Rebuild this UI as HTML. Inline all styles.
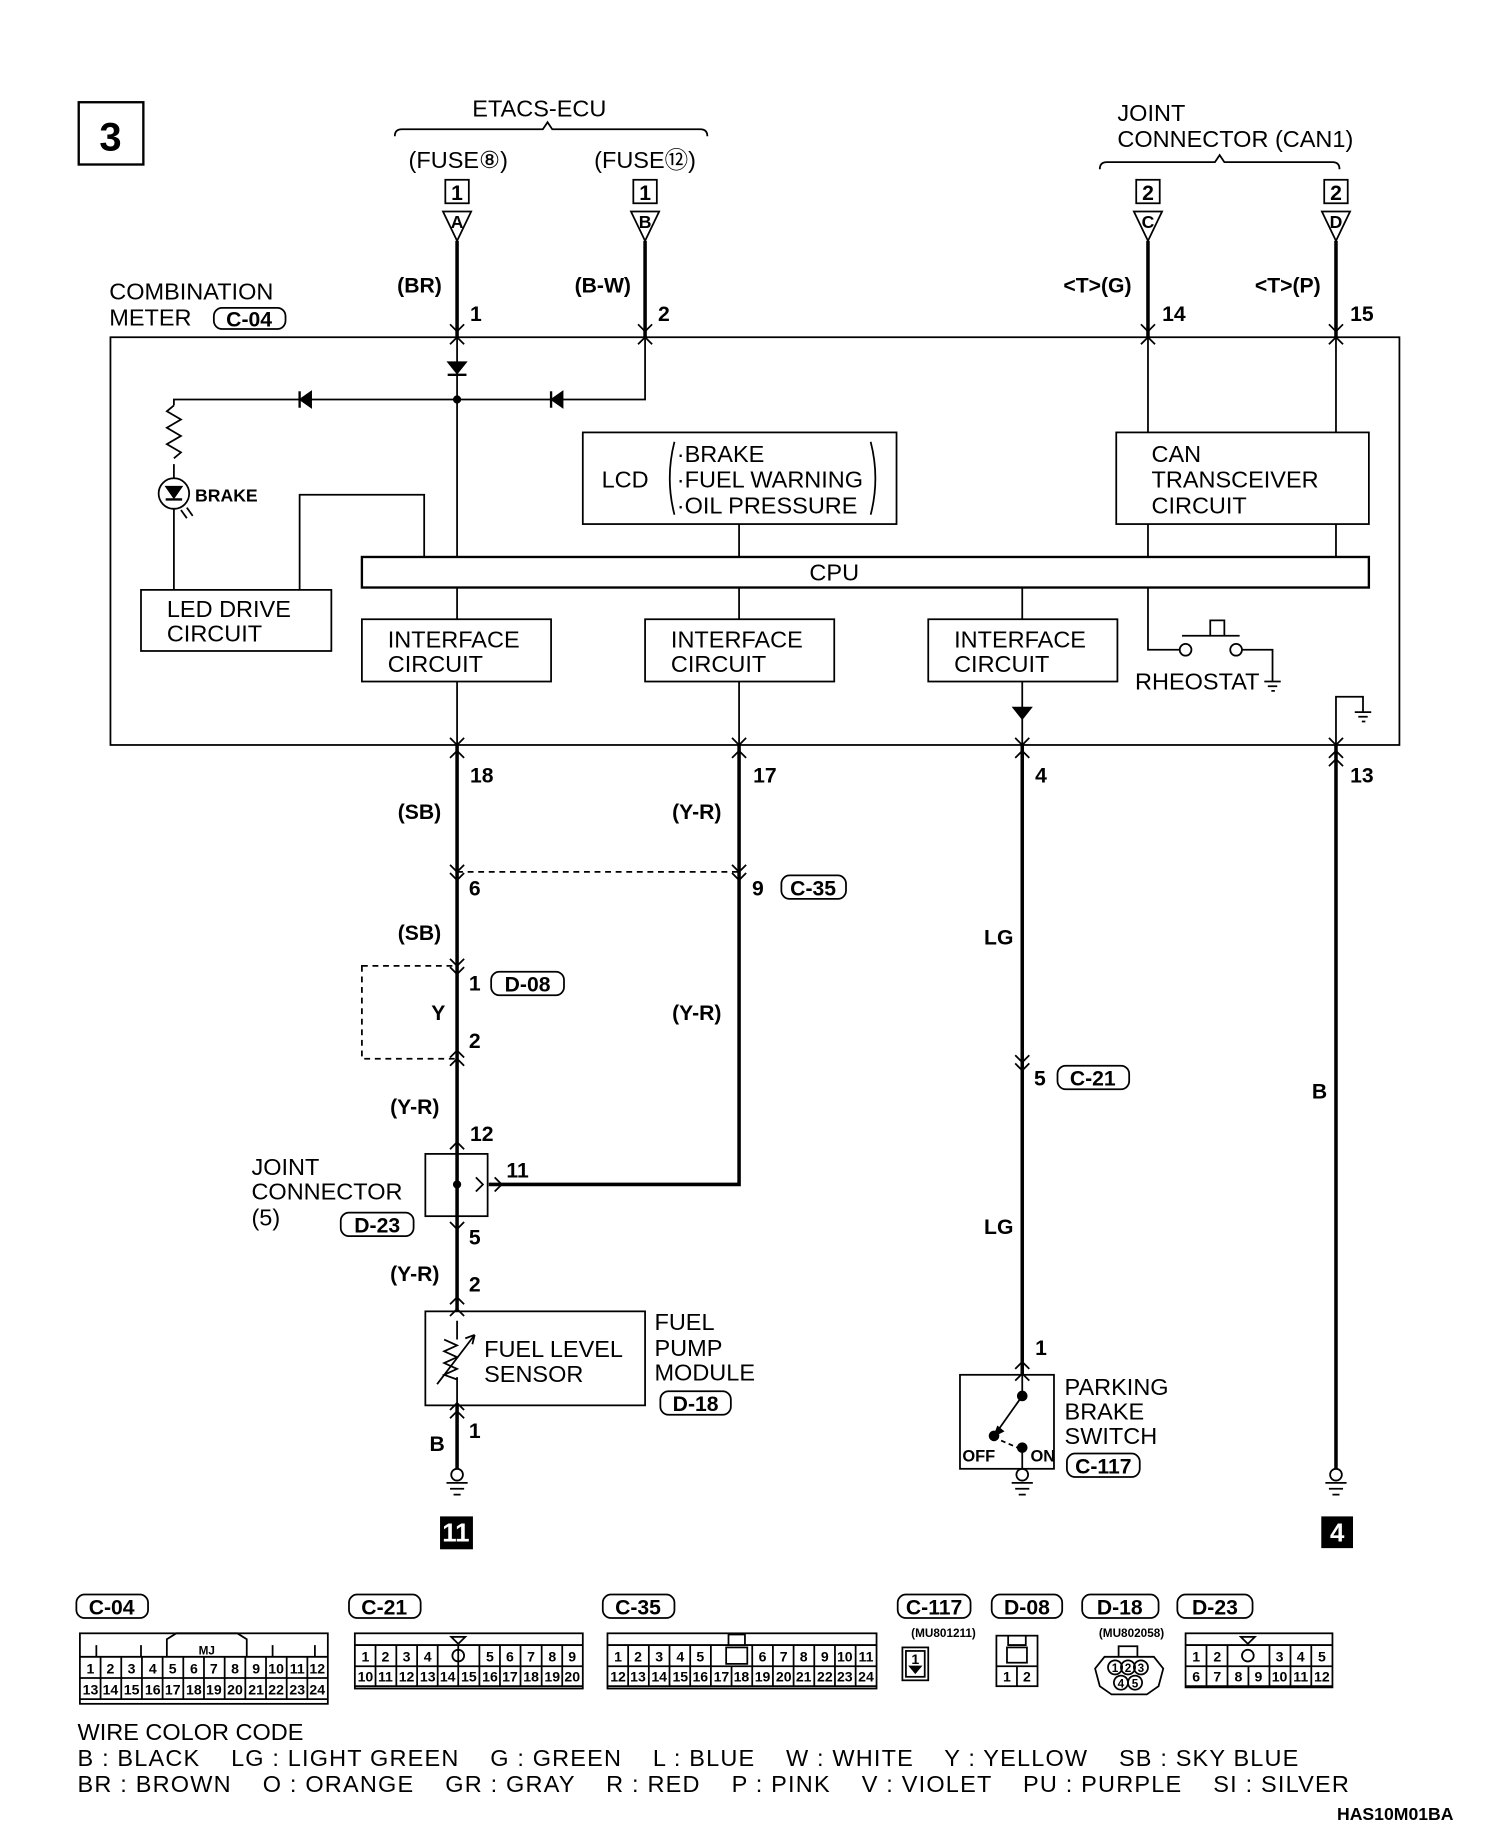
<!DOCTYPE html>
<html><head><meta charset="utf-8"><style>
html,body{margin:0;padding:0;background:#fff;}
svg{display:block;}
text{font-family:"Liberation Sans",sans-serif;fill:#000;}
.t{font-size:20px;}
.b{font-size:18px;font-weight:bold;}
.s{font-size:13px;font-weight:bold;}
.c{font-size:12px;font-weight:bold;}
</style></head><body>
<svg width="1504" height="1846" viewBox="0 0 1280 1571" preserveAspectRatio="none" xmlns="http://www.w3.org/2000/svg">
<rect width="1280" height="1571" fill="#fff"/>
<g fill="none" stroke="#000" stroke-width="1.5">
<rect x="67" y="87" width="55" height="53" stroke-width="2"/>
<path d="M336 116 Q336 110 342 110 L462 110 L466 104 L470 110 L596 110 Q602 110 602 116"/>
<path d="M936 144 Q936 138 942 138 L1034 138 L1038 132 L1042 138 L1134 138 Q1140 138 1140 144"/>
<rect x="379" y="153" width="20" height="20"/><rect x="539" y="153" width="20" height="20"/>
<rect x="967" y="153" width="20" height="20"/><rect x="1127" y="153" width="20" height="20"/>
<path d="M377 180 L401 180 L389 205 Z"/><path d="M537 180 L561 180 L549 205 Z"/>
<path d="M965 180 L989 180 L977 205 Z"/><path d="M1125 180 L1149 180 L1137 205 Z"/>
<rect x="94" y="287" width="1097" height="347"/>
<path d="M389 287 V474 M549 287 V340 H148 V345 M148 395 V407 M148 433 V502 M255 502 V421 H361 V474"/>
<path d="M148 345 l-6 5 l12 7 l-12 7 l12 7 l-12 7 l12 7 l-6 5"/>
<circle cx="148" cy="420" r="13"/>
<path d="M154 434 l5 7 M159 432 l5 7"/>
<rect x="120" y="502" width="162" height="52"/>
<rect x="496" y="368" width="267" height="78"/>
<path d="M574 376 Q566 407 574 438 M741 376 Q749 407 741 438"/>
<rect x="950" y="368" width="215" height="78"/>
<rect x="308" y="474" width="857" height="26" stroke-width="2"/>
<path d="M977 287 V368 M1137 287 V368 M977 446 V474 M1137 446 V474 M629 446 V474"/>
<path d="M389 500 V527 M629 500 V527 M870 500 V527 M977 500 V553 H1004"/>
<rect x="308" y="527" width="161" height="53"/><rect x="549" y="527" width="161" height="53"/><rect x="790" y="527" width="161" height="53"/>
<circle cx="1009" cy="553" r="5"/><circle cx="1052" cy="553" r="5"/>
<path d="M1006 541 H1055 M1030 541 V528 H1042 V541 M1057 553 H1083 V580 M1076 580 H1090 M1079 584 H1087 M1082 588 H1085"/>
<path d="M389 580 V634 M629 580 V634 M870 580 V634 M1137 634 V593 H1160 V606 M1153 606 H1167 M1156 610 H1164 M1159 614 H1162"/>
<g stroke-width="3">
<path d="M389 205 V287 M549 205 V287 M977 205 V287 M1137 205 V287"/>
<path d="M389 634 V1116 M629 634 V1008 H416 M389 1035 V1116 M389 1196 V1250"/>
<path d="M870 634 V1170 M1137 634 V1250"/>
</g>
<path d="M389 742 H629" stroke-dasharray="5 4"/>
<rect x="308" y="822" width="81" height="79" stroke-dasharray="5 4"/>
<rect x="362" y="982" width="53" height="53"/>
<rect x="362" y="1116" width="187" height="80"/>
<path d="M389 1124 V1140 M389 1172 V1196 M378 1140 l11 5 l-11 5 l11 5 l-11 5 l11 5 l-11 5 l11 4 M372 1178 L404 1136 M404 1136 l-2 8 M404 1136 l-8 3"/>
<rect x="817" y="1170" width="80" height="80"/>
<path d="M870 1170 V1188 M870 1188 L846 1222 M870 1250 V1232"/>
<path d="M852 1226 L866 1232" stroke-dasharray="4 3"/>
<circle cx="389" cy="1255" r="5"/><path d="M380 1262 H398 M383 1267 H395 M386 1272 H392"/>
<circle cx="870" cy="1255" r="5"/><path d="M861 1262 H879 M864 1267 H876 M867 1272 H873"/>
<circle cx="1137" cy="1255" r="5"/><path d="M1128 1262 H1146 M1131 1267 H1143 M1134 1272 H1140"/>
<path d="M383 293 l6 -6 l6 6 M543 293 l6 -6 l6 6 M971 293 l6 -6 l6 6 M1131 293 l6 -6 l6 6"/>
<path d="M383 276 l6 6 l6 -6 M543 276 l6 6 l6 -6 M971 276 l6 6 l6 -6 M1131 276 l6 6 l6 -6"/>
<path d="M383 628 l6 6 l6 -6 M623 628 l6 6 l6 -6 M864 628 l6 6 l6 -6 M1131 628 l6 6 l6 -6"/>
<path d="M383 645 l6 -6 l6 6 M623 645 l6 -6 l6 6 M864 645 l6 -6 l6 6 M1131 645 l6 -6 l6 6"/>
<path d="M383 736 l6 6 l6 -6 M383 743 l6 6 l6 -6 M623 736 l6 6 l6 -6 M623 743 l6 6 l6 -6"/>
<path d="M383 816 l6 6 l6 -6 M383 823 l6 6 l6 -6 M383 900 l6 -6 l6 6 M383 907 l6 -6 l6 6"/>
<path d="M864 898 l6 6 l6 -6 M864 905 l6 6 l6 -6"/>
<path d="M383 978 l6 -6 l6 6 M383 1040 l6 6 l6 -6 M383 1120 l6 -6 l6 6 M383 1110 l6 -6 l6 6"/>
<path d="M383 1200 l6 -6 l6 6 M383 1207 l6 -6 l6 6 M864 1175 l6 -6 l6 6 M864 1165 l6 -6 l6 6"/>
<path d="M421 1002 l6 6 l-6 6 M405 1002 l6 6 l-6 6 M1131 652 l6 -6 l6 6"/>
<rect x="182" y="262" width="61" height="18" rx="7"/>
<rect x="665" y="745" width="55" height="20" rx="7"/>
<rect x="418" y="827" width="62" height="20" rx="7"/>
<rect x="290" y="1032" width="62" height="20" rx="7"/>
<rect x="562" y="1184" width="60" height="20" rx="7"/>
<rect x="900" y="907" width="61" height="20" rx="7"/>
<rect x="908" y="1237" width="62" height="20" rx="7"/>
<rect x="65" y="1357" width="61" height="20" rx="7"/><rect x="297" y="1357" width="61" height="20" rx="7"/>
<rect x="513" y="1357" width="61" height="20" rx="7"/><rect x="764" y="1357" width="62" height="20" rx="7"/>
<rect x="844" y="1357" width="60" height="20" rx="7"/><rect x="921" y="1357" width="65" height="20" rx="7"/>
<rect x="1002" y="1357" width="64" height="20" rx="7"/>
<rect x="68" y="1390" width="211" height="60"/>
<path d="M68 1410 H279 M68 1428 H279 M68 1446 H279 M142 1410 V1395 L150 1390 H202 L210 1395 V1410 M82 1410 V1400 M120 1410 V1400 M232 1410 V1400 M268 1410 V1400"/>
<path d="M85.6 1410 V1446 M103.2 1410 V1446 M120.8 1410 V1446 M138.4 1410 V1446 M156 1410 V1446 M173.6 1410 V1446 M191.2 1410 V1446 M208.8 1410 V1446 M226.4 1410 V1446 M244 1410 V1446 M261.6 1410 V1446"/>
<rect x="302" y="1390" width="194" height="47"/>
<path d="M302 1400 H496 M302 1418 H496 M302 1435 H496"/>
<path d="M319.6 1400 V1435 M337.3 1400 V1435 M355 1400 V1435 M372.5 1400 V1418 M390 1400 V1418 M372.5 1418 V1435 M390 1418 V1435 M408 1400 V1435 M425.5 1400 V1435 M443 1400 V1435 M461 1400 V1435 M478.5 1400 V1435"/>
<circle cx="390" cy="1409" r="5"/><path d="M384 1393 H396 L390 1399 Z"/>
<rect x="517" y="1390" width="229" height="47"/>
<path d="M517 1400 H746 M517 1418 H746 M517 1435 H746 M620 1400 V1391 H634 V1400"/>
<path d="M534.6 1400 V1435 M552.2 1400 V1435 M569.8 1400 V1435 M587.4 1400 V1435 M605 1400 V1435 M622.6 1418 V1435 M640.2 1400 V1435 M657.8 1400 V1435 M675.4 1400 V1435 M693 1400 V1435 M710.6 1400 V1435 M728.2 1400 V1435"/>
<rect x="618" y="1402" width="18" height="14"/>
<rect x="768" y="1402" width="22" height="28"/><rect x="771" y="1405" width="16" height="22"/>
<rect x="848" y="1392" width="35" height="43"/><path d="M848 1418 H883 M865.5 1418 V1435 M858 1392 V1400 H873 V1392"/><rect x="857" y="1402" width="17" height="13"/>
<path d="M940 1410 H982 L990 1420 L986 1435 L976 1442 H946 L936 1435 L932 1420 Z M952 1410 V1401 H968 V1410"/>
<circle cx="949" cy="1419" r="6"/><circle cx="960" cy="1419" r="6"/><circle cx="971" cy="1419" r="6"/><circle cx="954" cy="1432" r="6"/><circle cx="966" cy="1432" r="6"/>
<rect x="1009" y="1390" width="125" height="46"/>
<path d="M1009 1400 H1134 M1009 1418 H1134 M1009 1435 H1134"/>
<path d="M1026.8 1400 V1435 M1044.7 1400 V1418 M1080.4 1400 V1435 M1062.5 1418 V1435 M1098.3 1400 V1435 M1116 1400 V1435 M1044.7 1418 V1435"/>
<circle cx="1062" cy="1409" r="5"/><path d="M1056 1393 H1068 L1062 1399 Z"/>
</g>
<g fill="#000" stroke="#000">
<path d="M381 308 H397 L389 318 Z"/><path d="M381 319 H397" stroke-width="2"/>
<path d="M265 333 V347 L255 340 Z"/><path d="M255 333 V347" stroke-width="2"/>
<path d="M479 333 V347 L469 340 Z"/><path d="M469 333 V347" stroke-width="2"/>
<circle cx="389" cy="340" r="3"/>
<path d="M141 414 H155 L148 424 Z"/><path d="M141 425 H155" stroke-width="2"/>
<path d="M862 602 H878 L870 612 Z"/>
<circle cx="389" cy="1008" r="3"/>
<circle cx="870" cy="1188" r="4"/><circle cx="846" cy="1222" r="4"/><circle cx="870" cy="1232" r="4"/>
<path d="M846 1222 l3 -8 l5 4 Z"/>
<rect x="375" y="1291" width="27" height="27"/><rect x="1125" y="1291" width="26" height="26"/>
<path d="M774 1418 H784 L779 1424 Z"/>
</g>
<text x="94" y="128" text-anchor="middle" style="font-size:34px;font-weight:bold">3</text>
<text x="459" y="99" text-anchor="middle" class="t">ETACS-ECU</text>
<text x="390" y="143" text-anchor="middle" class="t">(FUSE⑧)</text>
<text x="549" y="143" text-anchor="middle" class="t">(FUSE⑫)</text>
<text x="389" y="170" text-anchor="middle" class="b">1</text><text x="549" y="170" text-anchor="middle" class="b">1</text>
<text x="977" y="170" text-anchor="middle" class="b">2</text><text x="1137" y="170" text-anchor="middle" class="b">2</text>
<text x="389" y="194" text-anchor="middle" class="s" style="font-size:15px">A</text><text x="549" y="194" text-anchor="middle" class="s" style="font-size:15px">B</text>
<text x="977" y="194" text-anchor="middle" class="s" style="font-size:15px">C</text><text x="1137" y="194" text-anchor="middle" class="s" style="font-size:15px">D</text>
<text x="951" y="103" class="t">JOINT</text><text x="951" y="125" class="t">CONNECTOR (CAN1)</text>
<text x="357" y="249" text-anchor="middle" class="b">(BR)</text><text x="400" y="273" class="b">1</text>
<text x="513" y="249" text-anchor="middle" class="b">(B-W)</text><text x="560" y="273" class="b">2</text>
<text x="934" y="249" text-anchor="middle" class="b">&lt;T&gt;(G)</text><text x="989" y="273" class="b">14</text>
<text x="1096" y="249" text-anchor="middle" class="b">&lt;T&gt;(P)</text><text x="1149" y="273" class="b">15</text>
<text x="93" y="255" class="t">COMBINATION</text><text x="93" y="277" class="t">METER</text>
<text x="212" y="278" text-anchor="middle" class="b">C-04</text>
<text x="166" y="427" class="s" style="font-size:15px">BRAKE</text>
<text x="142" y="525" class="t">LED DRIVE</text><text x="142" y="546" class="t">CIRCUIT</text>
<text x="512" y="415" class="t">LCD</text>
<text x="576" y="393" class="t">·BRAKE</text><text x="576" y="415" class="t">·FUEL WARNING</text><text x="576" y="437" class="t">·OIL PRESSURE</text>
<text x="980" y="393" class="t">CAN</text><text x="980" y="415" class="t">TRANSCEIVER</text><text x="980" y="437" class="t">CIRCUIT</text>
<text x="710" y="494" text-anchor="middle" class="t">CPU</text>
<text x="330" y="551" class="t">INTERFACE</text><text x="330" y="572" class="t">CIRCUIT</text>
<text x="571" y="551" class="t">INTERFACE</text><text x="571" y="572" class="t">CIRCUIT</text>
<text x="812" y="551" class="t">INTERFACE</text><text x="812" y="572" class="t">CIRCUIT</text>
<text x="966" y="587" class="t">RHEOSTAT</text>
<text x="400" y="666" class="b">18</text><text x="357" y="697" text-anchor="middle" class="b">(SB)</text>
<text x="641" y="666" class="b">17</text><text x="593" y="697" text-anchor="middle" class="b">(Y-R)</text>
<text x="881" y="666" class="b">4</text><text x="1149" y="666" class="b">13</text>
<text x="399" y="762" class="b">6</text><text x="640" y="762" class="b">9</text>
<text x="692" y="762" text-anchor="middle" class="b">C-35</text>
<text x="357" y="800" text-anchor="middle" class="b">(SB)</text>
<text x="399" y="843" class="b">1</text><text x="449" y="844" text-anchor="middle" class="b">D-08</text>
<text x="373" y="868" text-anchor="middle" class="b">Y</text><text x="399" y="892" class="b">2</text>
<text x="593" y="868" text-anchor="middle" class="b">(Y-R)</text>
<text x="850" y="804" text-anchor="middle" class="b">LG</text>
<text x="880" y="924" class="b">5</text><text x="930" y="924" text-anchor="middle" class="b">C-21</text>
<text x="850" y="1050" text-anchor="middle" class="b">LG</text>
<text x="1123" y="935" text-anchor="middle" class="b">B</text>
<text x="353" y="948" text-anchor="middle" class="b">(Y-R)</text>
<text x="400" y="971" class="b">12</text><text x="431" y="1002" class="b">11</text>
<text x="214" y="1000" class="t">JOINT</text><text x="214" y="1021" class="t">CONNECTOR</text><text x="214" y="1043" class="t">(5)</text>
<text x="321" y="1049" text-anchor="middle" class="b">D-23</text>
<text x="399" y="1059" class="b">5</text>
<text x="353" y="1090" text-anchor="middle" class="b">(Y-R)</text><text x="399" y="1099" class="b">2</text>
<text x="412" y="1155" class="t">FUEL LEVEL</text><text x="412" y="1176" class="t">SENSOR</text>
<text x="557" y="1132" class="t">FUEL</text><text x="557" y="1154" class="t">PUMP</text><text x="557" y="1175" class="t">MODULE</text>
<text x="592" y="1201" text-anchor="middle" class="b">D-18</text>
<text x="399" y="1224" class="b">1</text><text x="372" y="1235" text-anchor="middle" class="b">B</text>
<text x="881" y="1153" class="b">1</text>
<text x="906" y="1187" class="t">PARKING</text><text x="906" y="1208" class="t">BRAKE</text><text x="906" y="1229" class="t">SWITCH</text>
<text x="939" y="1254" text-anchor="middle" class="b">C-117</text>
<text x="819" y="1244" class="s" style="font-size:14px">OFF</text><text x="877" y="1244" class="s" style="font-size:14px">ON</text>
<text x="388" y="1312" text-anchor="middle" style="font-size:22px;font-weight:bold;fill:#fff">11</text>
<text x="1138" y="1312" text-anchor="middle" style="font-size:22px;font-weight:bold;fill:#fff">4</text>
<text x="95" y="1374" text-anchor="middle" class="b">C-04</text><text x="327" y="1374" text-anchor="middle" class="b">C-21</text>
<text x="543" y="1374" text-anchor="middle" class="b">C-35</text><text x="795" y="1374" text-anchor="middle" class="b">C-117</text>
<text x="874" y="1374" text-anchor="middle" class="b">D-08</text><text x="953" y="1374" text-anchor="middle" class="b">D-18</text>
<text x="1034" y="1374" text-anchor="middle" class="b">D-23</text>
<text x="803" y="1393" text-anchor="middle" style="font-size:10px;font-weight:bold">(MU801211)</text>
<text x="963" y="1393" text-anchor="middle" style="font-size:10px;font-weight:bold">(MU802058)</text>
<text x="176" y="1408" text-anchor="middle" style="font-size:10px;font-weight:bold">MJ</text>
<g class="c" text-anchor="middle" style="font-size:12px;font-weight:bold">
<text x="77" y="1424">1</text><text x="94" y="1424">2</text><text x="112" y="1424">3</text><text x="130" y="1424">4</text><text x="147" y="1424">5</text><text x="165" y="1424">6</text><text x="182" y="1424">7</text><text x="200" y="1424">8</text><text x="218" y="1424">9</text><text x="235" y="1424">10</text><text x="253" y="1424">11</text><text x="270" y="1424">12</text>
<text x="77" y="1442">13</text><text x="94" y="1442">14</text><text x="112" y="1442">15</text><text x="130" y="1442">16</text><text x="147" y="1442">17</text><text x="165" y="1442">18</text><text x="182" y="1442">19</text><text x="200" y="1442">20</text><text x="218" y="1442">21</text><text x="235" y="1442">22</text><text x="253" y="1442">23</text><text x="270" y="1442">24</text>
<text x="311" y="1414">1</text><text x="328" y="1414">2</text><text x="346" y="1414">3</text><text x="364" y="1414">4</text><text x="417" y="1414">5</text><text x="434" y="1414">6</text><text x="452" y="1414">7</text><text x="470" y="1414">8</text><text x="487" y="1414">9</text>
<text x="311" y="1431">10</text><text x="328" y="1431">11</text><text x="346" y="1431">12</text><text x="364" y="1431">13</text><text x="381" y="1431">14</text><text x="399" y="1431">15</text><text x="417" y="1431">16</text><text x="434" y="1431">17</text><text x="452" y="1431">18</text><text x="470" y="1431">19</text><text x="487" y="1431">20</text>
<text x="526" y="1414">1</text><text x="543" y="1414">2</text><text x="561" y="1414">3</text><text x="579" y="1414">4</text><text x="596" y="1414">5</text><text x="649" y="1414">6</text><text x="667" y="1414">7</text><text x="684" y="1414">8</text><text x="702" y="1414">9</text><text x="719" y="1414">10</text><text x="737" y="1414">11</text>
<text x="526" y="1431">12</text><text x="543" y="1431">13</text><text x="561" y="1431">14</text><text x="579" y="1431">15</text><text x="596" y="1431">16</text><text x="614" y="1431">17</text><text x="631" y="1431">18</text><text x="649" y="1431">19</text><text x="667" y="1431">20</text><text x="684" y="1431">21</text><text x="702" y="1431">22</text><text x="719" y="1431">23</text><text x="737" y="1431">24</text>
<text x="779" y="1416">1</text>
<text x="857" y="1431">1</text><text x="874" y="1431">2</text>
<text x="949" y="1423" style="font-size:10px">1</text><text x="960" y="1423" style="font-size:10px">2</text><text x="971" y="1423" style="font-size:10px">3</text><text x="954" y="1436" style="font-size:10px">4</text><text x="966" y="1436" style="font-size:10px">5</text>
<text x="1018" y="1414">1</text><text x="1036" y="1414">2</text><text x="1089" y="1414">3</text><text x="1107" y="1414">4</text><text x="1125" y="1414">5</text>
<text x="1018" y="1431">6</text><text x="1036" y="1431">7</text><text x="1054" y="1431">8</text><text x="1071" y="1431">9</text><text x="1089" y="1431">10</text><text x="1107" y="1431">11</text><text x="1125" y="1431">12</text>
</g>
<text x="66" y="1481" class="t">WIRE COLOR CODE</text>
<text x="66" y="1503" class="t" xml:space="preserve" textLength="1039" lengthAdjust="spacing">B : BLACK    LG : LIGHT GREEN    G : GREEN    L : BLUE    W : WHITE    Y : YELLOW    SB : SKY BLUE</text>
<text x="66" y="1525" class="t" xml:space="preserve" textLength="1082" lengthAdjust="spacing">BR : BROWN    O : ORANGE    GR : GRAY    R : RED    P : PINK    V : VIOLET    PU : PURPLE    SI : SILVER</text>
<text x="1237" y="1549" text-anchor="end" class="b" style="font-size:15px">HAS10M01BA</text>
</svg>
</body></html>
